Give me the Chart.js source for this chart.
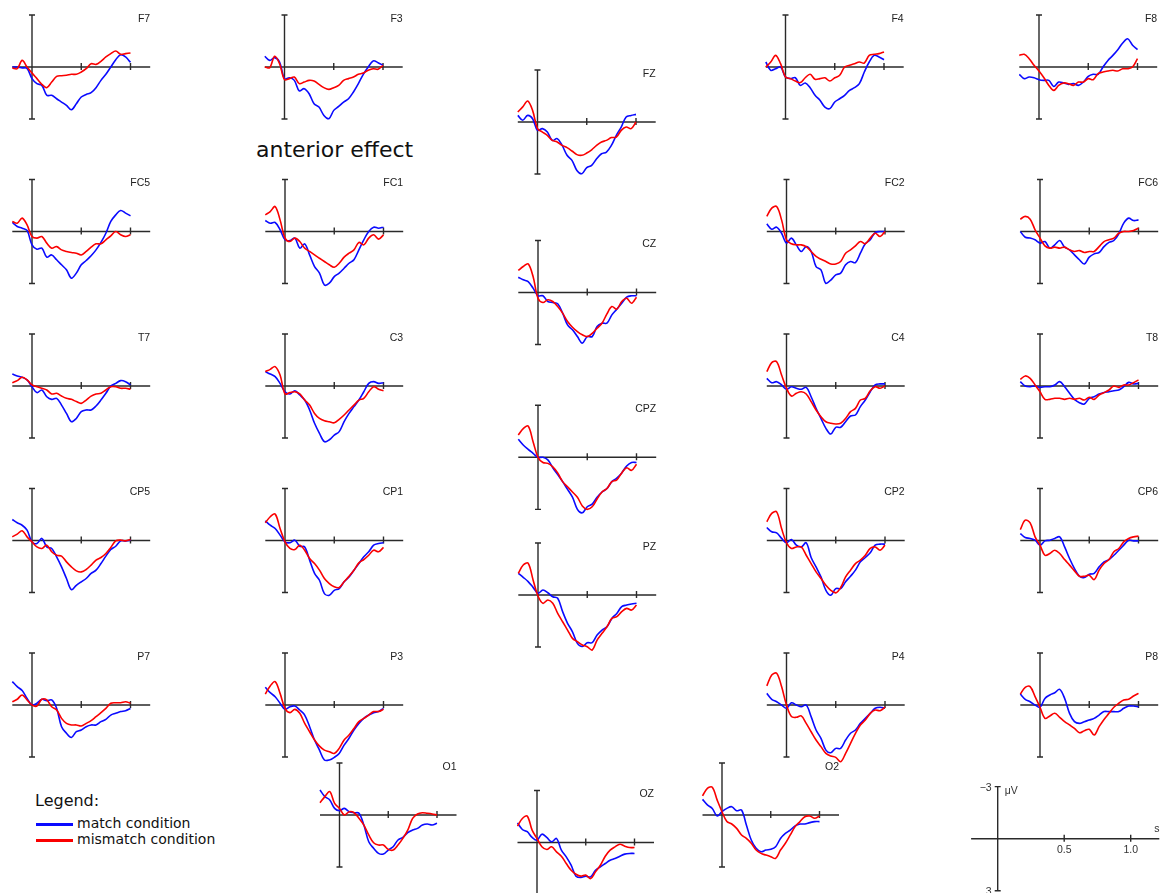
<!DOCTYPE html>
<html>
<head>
<meta charset="utf-8">
<title>ERP grand averages: match vs mismatch</title>
<script src="https://cdn.jsdelivr.net/npm/chart.js@4.4.1/dist/chart.umd.min.js"></script>
<style>
  html, body { margin: 0; padding: 0; background: #fff; }
  #board { position: relative; width: 1160px; height: 893px; overflow: hidden; background: #fff; }
  #board canvas { position: absolute; }
  .txt { position: absolute; white-space: nowrap; font-family: "DejaVu Sans", sans-serif; color: #111; line-height: 1; }
  .swatch { position: absolute; height: 3px; }
</style>
</head>
<body>
<div id="board"></div>
<script>
// Sample times (s) shared by every electrode
const times = [-0.2, -0.15, -0.1, -0.05, 0, 0.05, 0.1, 0.15, 0.2, 0.25, 0.3, 0.35, 0.4,
               0.45, 0.5, 0.55, 0.6, 0.65, 0.7, 0.75, 0.8, 0.85, 0.9, 0.95, 1.0];

// Scale-bar tick labels
const timeTicks = [0.5, 1.0];
const voltLimits = [-3, 3];

const conditions = ['match condition', 'mismatch condition'];

// Grand-average amplitudes (µV), one array per electrode and condition
const F7_match     = [0, 0, 0.05, 0.08, 0.67, 0.96, 1.06, 1.63, 1.63, 1.83, 2.02, 2.21, 2.46, 2.12, 1.73, 1.58, 1.48, 1.19, 0.77, 0.42, 0, -0.42, -0.71, -0.58, -0.27];
const F7_mismatch  = [0.06, 0.1, -0.38, 0, 0.35, 0.67, 1.0, 1.19, 0.87, 0.54, 0.5, 0.48, 0.42, 0.42, 0.29, 0.1, -0.19, -0.15, -0.33, -0.58, -0.77, -0.92, -0.73, -0.77, -0.81];
const F3_match     = [-0.62, -0.38, -0.54, -0.29, 0.67, 0.62, 0.77, 1.38, 1.25, 1.54, 2.12, 2.31, 2.79, 2.98, 2.5, 2.27, 2.02, 1.83, 1.44, 0.96, 0.42, 0, -0.35, -0.25, -0.1];
const F3_mismatch  = [0, 0.04, -0.62, -0.19, 0.73, 0.67, 0.58, 0.96, 0.87, 0.77, 0.81, 1.0, 1.19, 1.29, 1.19, 1.06, 0.77, 0.67, 0.58, 0.42, 0.35, 0.19, 0.1, 0.13, -0.1];
const FZ_match     = [-0.38, -0.1, -0.38, -0.19, 0.48, 0.38, 0.58, 1.06, 0.96, 1.35, 1.92, 2.21, 2.79, 2.98, 2.63, 2.5, 2.12, 1.83, 1.73, 1.35, 0.77, 0.29, -0.29, -0.38, -0.44];
const FZ_mismatch  = [-0.58, -0.87, -1.21, -0.67, 0.38, 0.58, 0.77, 1.06, 1.15, 1.35, 1.48, 1.67, 1.88, 1.92, 1.79, 1.6, 1.35, 1.15, 1.06, 0.9, 0.87, 0.48, 0.29, 0.38, 0];
const F4_match     = [-0.29, 0.19, 0.1, 0, 0.58, 0.67, 0.62, 1.06, 0.92, 1.19, 1.63, 1.92, 2.31, 2.4, 2.02, 1.83, 1.63, 1.35, 1.19, 0.96, 0.29, -0.29, -0.67, -0.58, -0.42];
const F4_mismatch  = [0, -0.29, -0.67, -0.19, 0.58, 0.67, 0.81, 0.9, 0.62, 0.42, 0.71, 0.67, 0.62, 0.81, 0.62, 0.48, 0, -0.1, -0.19, -0.29, -0.23, -0.67, -0.73, -0.77, -0.87];
const F8_match     = [0.42, 0.67, 0.58, 0.62, 0.73, 0.77, 0.77, 1.12, 0.87, 0.92, 1.0, 0.96, 1.06, 0.87, 0.54, 0.42, 0.42, 0, -0.38, -0.67, -1.0, -1.38, -1.63, -1.25, -1.0];
const F8_mismatch  = [-0.67, -0.73, -0.48, -0.1, 0.23, 0.62, 1.06, 1.35, 1.06, 0.92, 0.96, 1.06, 0.87, 0.87, 0.67, 0.73, 0.38, 0.29, 0.23, 0.19, 0.23, 0.1, 0.1, 0, -0.48];

const FC5_match    = [-0.52, -0.29, -0.19, -0.06, 0.77, 1.02, 0.96, 1.48, 1.35, 1.63, 1.92, 2.21, 2.69, 2.4, 1.92, 1.67, 1.4, 1.06, 0.63, 0.1, -0.58, -0.96, -1.21, -1.06, -0.9];
const FC5_mismatch = [-0.58, -0.48, -0.77, -0.38, 0.29, 0.38, 0.29, 0.67, 0.96, 0.87, 1.06, 1.15, 1.21, 1.25, 1.35, 1.15, 0.9, 0.71, 0.71, 0.48, 0.25, 0, 0.19, 0.29, 0.19];
const FC1_match    = [-0.63, -0.48, -0.52, -0.1, 0.48, 0.52, 0.38, 0.96, 0.71, 1.35, 2.02, 2.4, 3.08, 2.98, 2.6, 2.4, 2.12, 1.83, 1.63, 1.06, 0.48, 0, -0.25, -0.19, -0.25];
const FC1_mismatch = [-0.96, -1.15, -1.44, -0.67, 0.38, 0.58, 0.38, 0.58, 0.96, 1.15, 1.35, 1.54, 1.73, 1.92, 2.06, 1.83, 1.48, 1.25, 1.06, 0.63, 0.77, 0.38, 0.19, 0.44, 0.19];
const CZ_match     = [-0.88, -0.73, -0.63, -0.25, 0.19, 0.19, 0.52, 0.58, 0.65, 1.19, 1.87, 2.15, 2.54, 2.92, 2.54, 2.54, 1.96, 1.77, 1.77, 1.29, 0.96, 0.62, 0.27, 0.19, 0.19];
const CZ_mismatch  = [-1.27, -1.5, -1.65, -0.92, 0.33, 0.58, 0.42, 0.52, 0.81, 1.19, 1.67, 2.0, 2.25, 2.44, 2.54, 2.35, 2.06, 1.77, 1.23, 0.81, 0.96, 0.52, 0.33, 0.62, 0.27];
const FC2_match    = [-0.44, -0.13, -0.25, 0.1, 0.67, 0.38, 0.77, 1.15, 0.87, 1.15, 2.02, 2.21, 3.0, 2.8, 2.5, 2.4, 1.92, 1.73, 1.79, 1.25, 0.71, 0.48, 0.06, 0, 0];
const FC2_mismatch = [-0.87, -1.35, -1.44, -0.67, 0.48, 0.71, 0.77, 0.77, 0.87, 1.15, 1.44, 1.6, 1.73, 1.87, 1.87, 1.73, 1.25, 1.06, 0.83, 0.58, 0.71, 0.38, 0.1, 0.29, 0];
const FC6_match    = [0, 0.33, 0.38, 0.48, 0.67, 0.58, 0.96, 0.77, 0.52, 0.9, 1.06, 1.35, 1.63, 1.87, 1.48, 1.29, 1.21, 0.87, 0.63, 0.52, 0.13, -0.48, -0.77, -0.63, -0.67];
const FC6_mismatch = [-0.71, -0.87, -0.71, -0.1, 0.38, 0.83, 0.96, 0.9, 0.96, 0.9, 1.06, 1.15, 1.1, 1.21, 1.15, 1.15, 0.87, 0.58, 0.48, 0.38, 0.1, 0, 0, -0.06, -0.19];

const T7_match     = [-0.69, -0.58, -0.5, -0.35, 0.04, 0.38, 0.23, 0.62, 0.77, 0.71, 1.1, 1.58, 2.06, 1.87, 1.48, 1.38, 1.38, 1.15, 0.81, 0.42, 0, -0.15, -0.31, -0.25, -0.06];
const T7_mismatch  = [-0.19, -0.31, -0.5, -0.35, -0.06, 0.04, 0.13, 0.23, 0.46, 0.42, 0.58, 0.71, 0.77, 0.9, 1.0, 0.81, 0.58, 0.46, 0.42, 0.23, 0.04, 0.04, 0.13, 0.13, 0.19];
const C3_match     = [-0.83, -0.69, -0.54, -0.15, 0.33, 0.46, 0.27, 0.52, 0.81, 1.38, 2.15, 2.73, 3.21, 3.1, 2.83, 2.63, 2.06, 1.58, 1.19, 0.81, 0.33, -0.15, -0.25, -0.15, -0.19];
const C3_mismatch  = [-0.83, -0.96, -1.12, -0.63, 0.46, 0.38, 0.33, 0.46, 0.81, 1.1, 1.58, 1.87, 2.0, 2.06, 2.12, 1.92, 1.67, 1.38, 1.1, 0.81, 0.71, 0.33, 0.04, 0.19, 0.27];
const CPZ_match    = [-1.04, -0.71, -0.46, -0.23, 0, 0, 0.15, 0.6, 1.0, 1.4, 1.85, 2.3, 3.0, 3.2, 2.85, 2.7, 2.3, 2.0, 1.8, 1.4, 1.2, 0.9, 0.5, 0.3, 0.3];
const CPZ_mismatch = [-1.29, -1.65, -1.8, -0.9, 0, 0.3, 0.35, 0.55, 0.9, 1.4, 1.7, 2.0, 2.3, 2.8, 3.0, 2.85, 2.4, 2.0, 1.8, 1.4, 1.3, 0.9, 0.6, 0.75, 0.4];
const C4_match     = [-0.44, -0.19, -0.25, -0.06, 0.19, 0.04, 0.13, 0.19, 0.08, 0.62, 1.29, 1.87, 2.44, 2.77, 2.38, 2.38, 2.06, 1.73, 1.67, 1.19, 0.81, 0.33, -0.06, -0.12, -0.12];
const C4_mismatch  = [-0.83, -1.35, -1.4, -0.63, 0.13, 0.58, 0.42, 0.33, 0.46, 0.9, 1.38, 1.77, 2.06, 2.15, 2.19, 2.15, 1.87, 1.48, 1.29, 0.81, 0.71, 0.27, 0.04, 0.13, 0];
const T8_match     = [-0.25, 0, 0.04, 0, 0.08, 0.04, 0.04, -0.06, -0.25, 0.04, 0.42, 0.77, 0.96, 1.04, 0.71, 0.62, 0.46, 0.38, 0.33, 0.27, 0.23, 0.04, -0.21, -0.12, -0.15];
const T8_mismatch  = [-0.38, -0.58, -0.44, -0.06, 0.33, 0.77, 0.77, 0.71, 0.71, 0.77, 0.71, 0.77, 0.71, 0.81, 0.65, 0.77, 0.52, 0.38, 0.23, 0, 0.08, -0.06, -0.06, -0.19, -0.35];

const CP5_match    = [-1.21, -1.02, -0.88, -0.6, 0.08, 0.17, -0.12, 0.37, 0.46, 0.94, 1.52, 2.19, 2.83, 2.58, 2.38, 2.19, 1.9, 1.71, 1.33, 0.9, 0.52, 0.33, 0.02, 0.02, -0.02];
const CP5_mismatch = [-0.21, -0.37, -0.56, -0.21, 0.08, 0.37, 0.46, 0.27, 0.65, 0.85, 0.9, 1.23, 1.52, 1.75, 1.81, 1.67, 1.42, 1.13, 0.98, 0.75, 0.4, 0.02, -0.02, 0.02, -0.06];
const CP1_match    = [-1.13, -0.88, -0.69, -0.31, 0.08, 0.13, -0.02, 0.33, 0.37, 1.13, 1.9, 2.29, 3.06, 3.15, 2.87, 2.77, 2.38, 2.1, 1.71, 1.33, 0.94, 0.65, 0.27, 0.17, 0.13];
const CP1_mismatch = [-1.02, -1.37, -1.52, -0.69, 0.08, 0.46, 0.52, 0.27, 0.56, 1.04, 1.33, 1.71, 2.19, 2.48, 2.67, 2.71, 2.38, 2.06, 1.71, 1.29, 1.1, 0.85, 0.56, 0.65, 0.4];
const PZ_match     = [-1.25, -1.02, -0.77, -0.44, -0.1, -0.29, -0.13, 0.1, 0.19, 0.96, 1.63, 2.12, 2.79, 2.97, 2.75, 2.75, 2.31, 2.02, 1.83, 1.35, 1.06, 0.67, 0.58, 0.52, 0.48];
const PZ_mismatch  = [-1.25, -1.73, -1.83, -0.87, 0.06, 0.48, 0.29, 0.48, 1.06, 1.54, 2.02, 2.5, 2.69, 2.88, 2.98, 3.17, 2.6, 2.21, 1.83, 1.35, 1.25, 0.96, 0.77, 0.87, 0.58];
const CP2_match    = [-0.75, -0.5, -0.44, -0.12, 0.13, -0.06, 0.27, 0.37, 0.13, 0.98, 1.52, 2.1, 2.87, 3.15, 2.77, 2.77, 2.38, 2.06, 1.71, 1.23, 0.98, 0.71, 0.27, 0.21, 0.21];
const CP2_mismatch = [-1.08, -1.56, -1.65, -0.69, 0.13, 0.46, 0.37, 0.37, 0.85, 1.33, 1.81, 2.19, 2.58, 2.87, 3.02, 2.71, 2.1, 1.71, 1.33, 1.13, 0.85, 0.46, 0.37, 0.56, 0.27];
const CP6_match    = [-0.4, -0.17, -0.12, -0.02, 0.27, 0.02, -0.02, -0.12, -0.21, 0.37, 1.04, 1.62, 2.06, 2.13, 1.94, 1.9, 1.52, 1.23, 1.1, 0.85, 0.56, 0.27, -0.02, 0.02, 0.02];
const CP6_mismatch = [-0.63, -1.17, -1.02, -0.21, 0.27, 0.85, 0.75, 0.56, 0.75, 1.1, 1.42, 1.75, 2.06, 2.06, 2.0, 2.25, 1.71, 1.33, 1.1, 0.65, 0.46, 0.08, -0.12, -0.21, -0.25];

const P7_match     = [-1.35, -1.06, -0.83, -0.38, 0, -0.1, -0.33, -0.25, -0.29, 0.19, 1.25, 1.63, 1.87, 1.54, 1.44, 1.25, 1.15, 1.15, 0.96, 0.83, 0.58, 0.48, 0.38, 0.33, 0.2];
const P7_mismatch  = [-0.19, -0.33, -0.58, -0.29, 0, 0.06, -0.33, -0.29, 0.1, 0.29, 0.77, 1.06, 1.15, 1.15, 1.21, 1.06, 0.9, 0.67, 0.44, 0.19, -0.1, -0.13, -0.13, -0.19, -0.1];
const P3_match     = [-1.02, -0.71, -0.48, -0.1, 0.25, 0.1, 0.06, 0.29, 0.58, 1.25, 2.02, 2.6, 3.17, 3.17, 3.02, 2.79, 2.31, 1.92, 1.44, 1.06, 0.77, 0.58, 0.44, 0.38, 0.19];
const P3_mismatch  = [-0.63, -1.1, -1.35, -0.67, 0.19, 0.44, 0.25, 0.48, 1.06, 1.54, 2.02, 2.37, 2.6, 2.69, 2.79, 2.5, 2.02, 1.73, 1.35, 0.96, 0.77, 0.58, 0.38, 0.38, 0.25];
const P4_match     = [-0.67, -0.33, -0.19, 0, 0.19, -0.13, 0, 0.1, 0, 0.67, 1.44, 1.92, 2.6, 2.75, 2.5, 2.5, 2.02, 1.63, 1.44, 1.06, 0.77, 0.48, 0.19, 0.13, 0.19];
const P4_mismatch  = [-1.1, -1.73, -1.83, -1.06, 0, 0.67, 0.71, 0.63, 1.06, 1.54, 2.02, 2.4, 2.79, 2.94, 3.02, 3.27, 2.79, 2.21, 1.63, 1.15, 0.87, 0.48, 0.29, 0.33, 0.13];
const P8_match     = [-0.63, -0.33, -0.19, 0, 0.13, -0.38, -0.58, -0.71, -0.9, -0.38, 0.48, 0.96, 1.06, 0.96, 0.87, 0.77, 0.58, 0.38, 0.38, 0.38, 0.38, 0.19, 0.06, 0.06, 0.1];
const P8_mismatch  = [-0.63, -1.02, -1.06, -0.48, 0.13, 0.77, 0.63, 0.48, 0.71, 0.96, 1.15, 1.35, 1.6, 1.48, 1.4, 1.73, 1.25, 0.83, 0.48, 0.13, -0.1, -0.29, -0.33, -0.52, -0.67];

const O1_match     = [-1.44, -1.06, -0.87, -0.38, -0.25, -0.38, -0.19, -0.13, -0.1, 0.58, 1.54, 1.92, 2.21, 2.25, 2.02, 1.83, 1.44, 1.29, 1.02, 0.87, 0.77, 0.58, 0.52, 0.58, 0.48];
const O1_mismatch  = [-0.71, -1.06, -1.35, -0.67, -0.38, 0, -0.19, -0.13, 0.19, 0.58, 1.15, 1.6, 1.73, 1.73, 1.98, 2.02, 1.73, 1.35, 0.87, 0.19, -0.06, -0.13, -0.1, -0.06, 0];
const OZ_match     = [-1.13, -0.75, -0.62, -0.29, -0.13, -0.48, -0.29, -0.04, -0.23, 0.44, 0.83, 1.31, 1.94, 2.02, 1.94, 1.98, 1.6, 1.4, 1.21, 1.02, 0.92, 0.79, 0.67, 0.63, 0.63];
const OZ_mismatch  = [-0.94, -1.38, -1.52, -0.71, -0.23, 0.25, 0.4, 0.25, 0.54, 0.79, 1.21, 1.6, 1.83, 1.94, 1.88, 2.08, 1.69, 1.31, 0.79, 0.44, 0.25, 0.1, 0.21, 0.29, 0.29];
const O2_match     = [-0.9, -0.58, -0.38, 0.06, -0.19, -0.38, -0.48, -0.25, -0.29, 0.58, 1.44, 1.92, 2.12, 2.02, 1.98, 1.83, 1.35, 1.06, 0.87, 0.63, 0.52, 0.52, 0.44, 0.38, 0.38];
const O2_mismatch  = [-1.1, -1.54, -1.6, -0.87, -0.19, 0.38, 0.52, 0.77, 1.15, 1.35, 1.63, 2.02, 2.21, 2.31, 2.4, 2.5, 2.02, 1.63, 1.15, 0.67, 0.38, 0.1, 0.06, 0.19, 0.06];

// Electrode -> [match, mismatch]
const waves = {
  F7: [F7_match, F7_mismatch],   F3: [F3_match, F3_mismatch],   FZ: [FZ_match, FZ_mismatch],
  F4: [F4_match, F4_mismatch],   F8: [F8_match, F8_mismatch],
  FC5: [FC5_match, FC5_mismatch], FC1: [FC1_match, FC1_mismatch], CZ: [CZ_match, CZ_mismatch],
  FC2: [FC2_match, FC2_mismatch], FC6: [FC6_match, FC6_mismatch],
  T7: [T7_match, T7_mismatch],   C3: [C3_match, C3_mismatch],   CPZ: [CPZ_match, CPZ_mismatch],
  C4: [C4_match, C4_mismatch],   T8: [T8_match, T8_mismatch],
  CP5: [CP5_match, CP5_mismatch], CP1: [CP1_match, CP1_mismatch], PZ: [PZ_match, PZ_mismatch],
  CP2: [CP2_match, CP2_mismatch], CP6: [CP6_match, CP6_mismatch],
  P7: [P7_match, P7_mismatch],   P3: [P3_match, P3_mismatch],   P4: [P4_match, P4_mismatch],
  P8: [P8_match, P8_mismatch],
  O1: [O1_match, O1_mismatch],   OZ: [OZ_match, OZ_mismatch],   O2: [O2_match, O2_mismatch]
};

// Page position of each panel's origin (t = 0 s, 0 µV) and its horizontal scale (px per s)
const panelLayout = {
  F7: [32, 67, 98.5],     F3: [284.5, 67, 98.5],  FZ: [537.5, 122, 98.5],  F4: [785.5, 67, 98.5],  F8: [1039, 67, 98.5],
  FC5: [32, 231.5, 98.5], FC1: [285, 231.5, 98.5], CZ: [538, 292.5, 98.5], FC2: [786.5, 231.5, 98.5], FC6: [1040, 231.5, 98.5],
  T7: [32, 386, 98.5],    C3: [285, 386, 98.5],   CPZ: [538, 457.3, 98.5], C4: [786.5, 386, 98.5],  T8: [1040, 386, 98.5],
  CP5: [32, 540.5, 98.5], CP1: [285, 540.5, 98.5], PZ: [538, 595, 98.5],   CP2: [786.5, 540.5, 98.5], CP6: [1040, 540.5, 98.5],
  P7: [32, 705, 98.5],    P3: [285, 705, 98.5],   P4: [786.5, 705, 98.5],  P8: [1040, 705, 98.5],
  O1: [339.5, 815, 97.5], OZ: [537, 842.5, 97.5], O2: [722, 815, 97.5]
};
const scaleLayout = [997.7, 838.7, 133];
const PX_PER_UV = 17.35;

const COLORS = ['rgb(10,10,255)', 'rgb(250,0,0)'];
const AXIS = '#2a2a2a';

// Draws the zero-crossing axes, end caps, time ticks and the electrode name
const erpFrame = {
  id: 'erpFrame',
  beforeDatasetsDraw(chart, args, opts) {
    const ctx = chart.ctx, xs = chart.scales.x, ys = chart.scales.y;
    const x0 = xs.getPixelForValue(0), y0 = ys.getPixelForValue(0);
    const xl = xs.getPixelForValue(xs.min), xr = xs.getPixelForValue(xs.max);
    const yt = ys.getPixelForValue(voltLimits[0]), yb = ys.getPixelForValue(voltLimits[1]);
    ctx.save();
    ctx.strokeStyle = AXIS;
    ctx.lineWidth = 1.4;
    ctx.beginPath();
    ctx.moveTo(xl, y0); ctx.lineTo(xr + (opts.extend || 0), y0);
    ctx.moveTo(x0, yt); ctx.lineTo(x0, yb);
    ctx.moveTo(x0 - 3, yt); ctx.lineTo(x0 + 3, yt);
    ctx.moveTo(x0 - 3, yb); ctx.lineTo(x0 + 3, yb);
    timeTicks.forEach(t => {
      const x = xs.getPixelForValue(t);
      ctx.moveTo(x, y0 - 4); ctx.lineTo(x, y0 + 3);
    });
    ctx.stroke();
    ctx.fillStyle = '#222';
    ctx.font = '10.5px "Liberation Sans", Arial, sans-serif';
    if (opts.label) {
      ctx.textAlign = 'right';
      ctx.textBaseline = 'middle';
      ctx.fillText(opts.label, xr, yt + 4);
    }
    if (opts.scaleBar) {
      ctx.fillStyle = '#333';
      ctx.textBaseline = 'middle';
      ctx.textAlign = 'right';
      ctx.fillText('\u22123', x0 - 6, yt + 1);
      ctx.fillText(String(voltLimits[1]), x0 - 6, yb + 1);
      ctx.textAlign = 'left';
      ctx.fillText('\u03bcV', x0 + 7, yt + 4);
      ctx.fillText('s', xr - 3, y0 - 10);
      ctx.textAlign = 'center';
      ctx.textBaseline = 'top';
      timeTicks.forEach(t => ctx.fillText(t.toFixed(1), xs.getPixelForValue(t), y0 + 6));
    }
    ctx.restore();
  }
};

const board = document.getElementById('board');

function makePanel(label, origin, series, frameOpts) {
  const [ox, oy, pxs] = origin;
  const pad = 12;
  const areaL = ox + times[0] * pxs, areaR = ox + 1.2 * pxs;
  const areaT = oy - 3 * PX_PER_UV, areaB = oy + 3 * PX_PER_UV;
  const left = Math.floor(areaL) - pad, top = Math.floor(areaT) - pad;
  const width = Math.ceil(areaR) + pad - left, height = Math.ceil(areaB) + pad - top;
  const cv = document.createElement('canvas');
  cv.width = width; cv.height = height;
  cv.style.left = left + 'px'; cv.style.top = top + 'px';
  cv.style.width = width + 'px'; cv.style.height = height + 'px';
  board.appendChild(cv);

  const datasets = series.map((vals, k) => ({
    label: conditions[k],
    data: times.map((t, i) => ({ x: t, y: vals[i] })),
    borderColor: COLORS[k],
    borderWidth: 1.6,
    pointRadius: 0,
    tension: 0.35,
    fill: false,
    clip: false,
    order: k === 1 ? 0 : 1
  }));

  return new Chart(cv, {
    type: 'line',
    data: { datasets },
    options: {
      responsive: false,
      animation: false,
      devicePixelRatio: 1,
      events: [],
      layout: { padding: {
        left: areaL - left, right: left + width - areaR,
        top: areaT - top, bottom: top + height - areaB } },
      scales: {
        x: { type: 'linear', min: times[0], max: 1.2, display: false },
        y: { type: 'linear', min: voltLimits[0], max: voltLimits[1], reverse: true, display: false }
      },
      plugins: { legend: { display: false }, tooltip: { enabled: false }, erpFrame: frameOpts }
    },
    plugins: [erpFrame]
  });
}

Object.keys(waves).forEach(name => makePanel(name, panelLayout[name], waves[name], { label: name }));
makePanel('', scaleLayout, [], { scaleBar: true, extend: 2 });

// Heading and legend
function addText(text, x, baseline, size) {
  const d = document.createElement('div');
  d.className = 'txt';
  d.textContent = text;
  d.style.fontSize = size + 'px';
  d.style.left = x + 'px';
  d.style.top = (baseline - 0.846 * size) + 'px';
  board.appendChild(d);
}
function addSwatch(color, x, y, w) {
  const s = document.createElement('div');
  s.className = 'swatch';
  s.style.background = color;
  s.style.left = x + 'px'; s.style.top = (y - 1.5) + 'px'; s.style.width = w + 'px';
  board.appendChild(s);
}
addText('anterior effect', 256, 158, 22);
addText('Legend:', 35, 806.7, 16);
addSwatch(COLORS[0], 36, 824, 37);
addText(conditions[0], 77, 828, 14);
addSwatch(COLORS[1], 36, 840, 37);
addText(conditions[1], 77, 844, 14);
</script>
</body>
</html>
